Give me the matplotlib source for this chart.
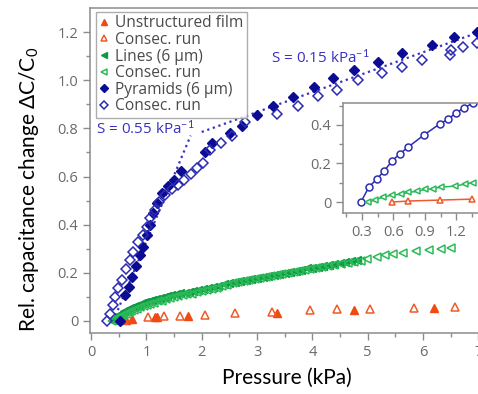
import numpy as np
import matplotlib
matplotlib.use('Agg')
from matplotlib import pyplot

# --- data (pressure in kPa, relative capacitance change) ---
flat_p      = [0.63, 0.74, 1.16, 1.20, 1.75, 3.37, 4.76, 6.20]
flat_dc     = [0.004, 0.008, 0.017, 0.018, 0.020, 0.035, 0.047, 0.052]
flat2_p     = [0.60, 1.03, 1.31, 1.61, 2.06, 2.60, 3.27, 3.95, 4.45, 5.04, 5.84, 6.58]
flat2_dc    = [0.003, 0.016, 0.020, 0.020, 0.025, 0.035, 0.038, 0.045, 0.048, 0.048, 0.052, 0.060]

lines_p     = [0.40, 0.44, 0.48, 0.52, 0.56, 0.60, 0.65, 0.70, 0.75, 0.80, 0.86, 0.92, 0.98, 1.04,
               1.10, 1.17, 1.24, 1.31, 1.38, 1.45, 1.53, 1.61, 1.69, 1.77, 1.85, 1.94, 2.03, 2.12,
               2.21, 2.30, 2.40, 2.50, 2.60, 2.70, 2.80, 2.90, 3.00, 3.10, 3.20, 3.30, 3.40, 3.50,
               3.60, 3.70, 3.80, 3.90, 4.00, 4.10, 4.20, 4.30, 4.40, 4.50, 4.60, 4.70, 4.80]
lines_dc    = [0.004, 0.014, 0.021, 0.029, 0.034, 0.040, 0.046, 0.052, 0.057, 0.063, 0.068, 0.074,
               0.079, 0.084, 0.089, 0.093, 0.097, 0.101, 0.105, 0.109, 0.112, 0.115, 0.118, 0.121,
               0.125, 0.129, 0.133, 0.137, 0.142, 0.147, 0.152, 0.157, 0.162, 0.167, 0.171, 0.176,
               0.180, 0.184, 0.188, 0.192, 0.196, 0.201, 0.205, 0.209, 0.213, 0.218, 0.222, 0.226,
               0.230, 0.234, 0.238, 0.242, 0.246, 0.249, 0.253]
lines2_p    = [0.38, 0.42, 0.46, 0.50, 0.54, 0.58, 0.63, 0.68, 0.73, 0.78, 0.83, 0.89, 0.95, 1.01,
               1.07, 1.14, 1.21, 1.28, 1.35, 1.42, 1.50, 1.58, 1.66, 1.74, 1.82, 1.91, 2.00, 2.09,
               2.18, 2.27, 2.36, 2.46, 2.56, 2.66, 2.76, 2.86, 2.96, 3.06, 3.16, 3.26, 3.36, 3.46,
               3.56, 3.66, 3.76, 3.86, 3.96, 4.07, 4.18, 4.29, 4.40, 4.52, 4.64, 4.76, 4.88, 4.99,
               5.17, 5.32, 5.46, 5.64, 5.87, 6.11, 6.33, 6.51]
lines2_dc   = [0.000, 0.006, 0.011, 0.016, 0.021, 0.026, 0.031, 0.036, 0.041, 0.046, 0.051, 0.056,
               0.061, 0.066, 0.071, 0.076, 0.081, 0.085, 0.090, 0.094, 0.098, 0.102, 0.106, 0.110,
               0.114, 0.119, 0.124, 0.129, 0.134, 0.139, 0.144, 0.150, 0.156, 0.161, 0.166, 0.171,
               0.175, 0.179, 0.183, 0.187, 0.191, 0.195, 0.200, 0.204, 0.208, 0.212, 0.217, 0.221,
               0.225, 0.229, 0.233, 0.238, 0.242, 0.246, 0.251, 0.258, 0.265, 0.272, 0.277, 0.283,
               0.289, 0.296, 0.300, 0.303]

pyr_p       = [0.52, 0.61, 0.69, 0.74, 0.81, 0.89, 0.93, 1.01, 1.07, 1.12, 1.19, 1.28, 1.39, 1.50,
               1.63, 2.06, 2.19, 2.51, 2.73, 3.00, 3.29, 3.65, 4.03, 4.38, 4.75, 5.19, 5.62, 6.16,
               6.57, 6.98]
pyr_dc      = [0.000, 0.108, 0.143, 0.184, 0.228, 0.274, 0.308, 0.356, 0.398, 0.447, 0.490, 0.531,
               0.560, 0.585, 0.625, 0.700, 0.740, 0.780, 0.810, 0.855, 0.895, 0.930, 0.970, 1.010,
               1.043, 1.075, 1.112, 1.145, 1.180, 1.200]
pyr2_p      = [0.29, 0.35, 0.39, 0.43, 0.49, 0.56, 0.63, 0.70, 0.76, 0.85, 0.94, 1.01, 1.07, 1.16,
               1.23, 1.34, 1.46, 1.57, 1.68, 1.80, 1.92, 2.02, 2.15, 2.35, 2.55, 2.78, 3.36, 3.74,
               4.10, 4.45, 4.83, 5.26, 5.62, 5.99, 6.49, 6.51, 6.73, 6.98]
pyr2_dc     = [0.000, 0.030, 0.066, 0.100, 0.137, 0.170, 0.215, 0.253, 0.286, 0.328, 0.357, 0.390,
               0.427, 0.460, 0.494, 0.523, 0.550, 0.565, 0.585, 0.610, 0.635, 0.655, 0.710, 0.740,
               0.770, 0.825, 0.860, 0.895, 0.933, 0.958, 1.000, 1.030, 1.055, 1.083, 1.104, 1.125,
               1.137, 1.153]

# linear fits (sensitivity guides)
fit1_p, fit1_dc = [0.40, 1.80], [0.0, 0.77]
fit2_p, fit2_dc = [2.00, 7.50], [0.785, 1.24]

# inset: low pressure regime
in_pyr_p    = [0.29, 0.367, 0.443, 0.51, 0.586, 0.66, 0.74, 0.89, 1.04, 1.12, 1.195, 1.27, 1.357, 1.44]
in_pyr_dc   = [0.0, 0.078, 0.120, 0.160, 0.213, 0.250, 0.285, 0.348, 0.405, 0.430, 0.462, 0.488, 0.514, 0.54]
in_lines_p  = [0.36, 0.42, 0.50, 0.585, 0.67, 0.74, 0.82, 0.90, 0.98, 1.05, 1.19, 1.28, 1.36]
in_lines_dc = [0.0, 0.010, 0.025, 0.036, 0.040, 0.050, 0.055, 0.065, 0.070, 0.077, 0.083, 0.093, 0.100]
in_flat_p   = [0.586, 0.74, 1.04, 1.35]
in_flat_dc  = [0.0, 0.005, 0.010, 0.015]

xticks      = [0, 1, 2, 3, 4, 5, 6, 7]
xticklabels = ['0', '1', '2', '3', '4', '5', '6', '7']
yticks      = [0, 0.2, 0.4, 0.6, 0.8, 1.0, 1.2]
yticklabels = ['0', '0.2', '0.4', '0.6', '0.8', '1.0', '1.2']
in_xticks   = [0.3, 0.6, 0.9, 1.2]
in_xlabels  = ['0.3', '0.6', '0.9', '1.2']
in_yticks   = [0, 0.2, 0.4]
in_ylabels  = ['0', '0.2', '0.4']

# --- style ---
pyplot.rcParams['font.family'] = ['Open Sans', 'DejaVu Sans']
pyplot.rcParams['mathtext.fontset'] = 'custom'
pyplot.rcParams['mathtext.rm'] = 'Lato'
pyplot.rcParams['mathtext.it'] = 'Lato:italic'
cred, cred2   = '#ee4a12', '#ee5a2a'
cgrn, cgrn2   = '#0e9a44', '#2cba58'
cblu, cblu2   = '#0b0b94', '#2c2cb2'
cfit          = '#3a32c0'
cspine        = '#8c8c8c'
ctick         = '#6a6a6a'


def style_axes(ax):
	for s in ['left', 'bottom', 'top']:
		ax.spines[s].set_color(cspine)
		ax.spines[s].set_linewidth(1.1)
	ax.spines['right'].set_visible(False)
	ax.tick_params(which='both', direction='out', color=cspine, labelcolor=ctick, labelsize=10.5, width=1.0)
	ax.tick_params(which='major', length=5)
	ax.tick_params(which='minor', length=3)
	ax.tick_params(axis='x', which='both', top=False)


fig = pyplot.figure(figsize=(4.78, 3.94), dpi=100)
ax  = fig.add_axes([0.1883, 0.1548, 0.870, 0.8249])
style_axes(ax)

ms = 5.5
ax.plot(fit1_p, fit1_dc, ls=':', color=cfit, lw=1.6, zorder=1)
ax.plot(fit2_p, fit2_dc, ls=':', color=cfit, lw=1.6, zorder=1)
ax.plot(flat_p, flat_dc, '^', color=cred, ms=ms, ls='none', label='Unstructured film')
ax.plot(flat2_p, flat2_dc, '^', mfc='none', mec=cred2, mew=1.1, ms=ms, ls='none', label='Consec. run')
ax.plot(lines_p, lines_dc, '<', color=cgrn, ms=ms, ls='none', label='Lines (6 µm)')
ax.plot(lines2_p, lines2_dc, '<', mfc='none', mec=cgrn2, mew=1.1, ms=ms, ls='none', label='Consec. run')
ax.plot(pyr_p, pyr_dc, 'D', color=cblu, ms=ms, ls='none', label='Pyramids (6 µm)')
ax.plot(pyr2_p, pyr2_dc, 'D', mfc='none', mec=cblu2, mew=1.1, ms=ms, ls='none', label='Consec. run')

ax.set_xlim(-0.02, 7.5)
ax.set_ylim(-0.05, 1.30)
ax.set_xticks(xticks)
ax.set_xticklabels(xticklabels)
ax.set_xticks(np.arange(0.5, 7.5, 1.0), minor=True)
ax.set_yticks(yticks)
ax.set_yticklabels(yticklabels)
ax.set_yticks(np.arange(0.1, 1.3, 0.2), minor=True)

ax.text(0.08, 0.80, 'S = 0.55 kPa$^{-1}$', color=cfit, fontsize=11, va='center', ha='left')
ax.text(3.25, 1.095, 'S = 0.15 kPa$^{-1}$', color=cfit, fontsize=11, va='center', ha='left')

leg = ax.legend(loc='upper left', bbox_to_anchor=(0.015, 0.988), fontsize=11.2, frameon=True, fancybox=False,
				handlelength=0.55, handletextpad=0.45, borderpad=0.22, labelspacing=0.04, markerscale=0.72,
				borderaxespad=0.0)
leg.get_frame().set_edgecolor('#999999')
leg.get_frame().set_linewidth(1.0)
for t in leg.get_texts():
	t.set_color('#4a4a4a')

fig.text(0.06, 0.52, 'Rel. capacitance change ΔC/C$_0$', rotation=90, va='center', ha='center',
		 fontsize=15, family=['Lato', 'DejaVu Sans'])
fig.text(0.6, 0.04, 'Pressure (kPa)', va='center', ha='center', fontsize=15, family=['Lato', 'DejaVu Sans'])

# inset
axi = fig.add_axes([0.7176, 0.4594, 0.3033, 0.2792])
style_axes(axi)
axi.plot(in_pyr_p, in_pyr_dc, '-o', color=cblu2, lw=1.1, ms=5, mfc='white', mew=1.1)
axi.plot(in_lines_p, in_lines_dc, '-<', color=cgrn2, lw=1.1, ms=5, mfc='white', mew=1.1)
axi.plot(in_flat_p, in_flat_dc, '-^', color=cred2, lw=1.1, ms=5, mfc='white', mew=1.1)
axi.set_xlim(0.12, 1.5)
axi.set_ylim(-0.057, 0.514)
axi.set_xticks(in_xticks)
axi.set_xticklabels(in_xlabels)
axi.set_xticks([0.15, 0.45, 0.75, 1.05, 1.35], minor=True)
axi.set_yticks(in_yticks)
axi.set_yticklabels(in_ylabels)
axi.set_yticks([0.1, 0.3, 0.5], minor=True)

fig.savefig('out.png', dpi=100)
